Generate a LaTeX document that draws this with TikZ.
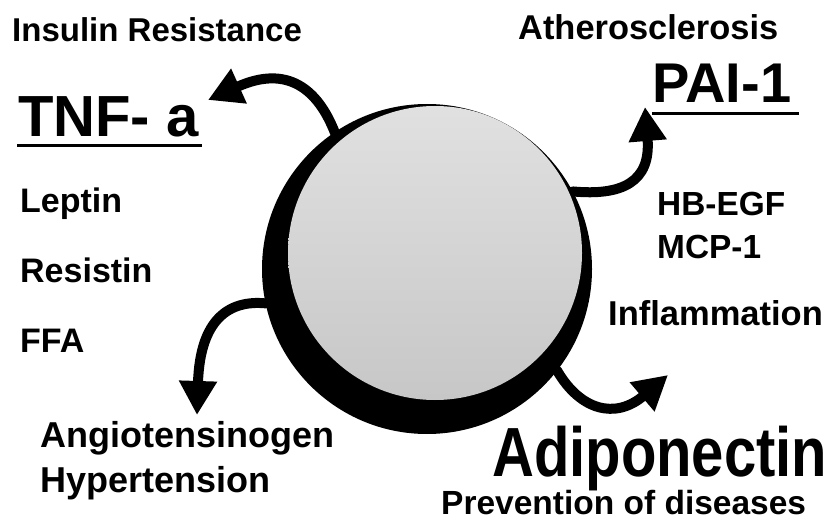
\documentclass[tikz,border=0pt]{standalone}
\usepackage{fontspec}
\setmainfont{Liberation Sans}
\usepackage{graphicx}
\usepackage{tikz}
\usetikzlibrary{arrows.meta,positioning}

\begin{document}
\begin{tikzpicture}[
  x=1pt, y=-1pt,
  lbl/.style={anchor=base west, inner sep=0pt, font=\fontsize{34}{40}\selectfont\bfseries},
  big/.style={anchor=base west, inner sep=0pt, font=\fontsize{58}{64}\selectfont\bfseries},
  secr/.style={line width=10pt, line join=round, -{Triangle[length=34pt,width=36pt]}},
  uline/.style={line width=3pt}
]
\useasboundingbox (0,0) rectangle (827,521);

\node[circle, fill=black, minimum size=330pt, inner sep=0pt] (cell) at (427,269) {};

\coordinate (tnfend) at (208,100);
\coordinate (paiend) at (645,107);
\coordinate (angend) at (197,415);
\coordinate (adipoend) at (668,375);

\draw[secr] (cell.center) -- (cell.124) .. controls (318,90) and (288,64) .. (tnfend);
\draw[secr] (cell.center) -- (cell.28) .. controls (622,196) and (651,182) .. (paiend);
\draw[secr] (cell.center) -- (cell.192) .. controls (230,300) and (200,318) .. (angend);
\draw[secr] (cell.center) -- (cell.322) .. controls (580,410) and (615,420) .. (adipoend);

\node[circle, top color=black!12, bottom color=black!22, minimum size=294pt, inner sep=0pt] (core) at (435,253) {};

\node[lbl, font=\fontsize{33}{40}\selectfont\bfseries] (insulin) at (12,42) {Insulin Resistance};
\node[big] (tnf) at (18,137) {TNF- a};
\draw[uline] ([xshift=-1pt,yshift=-8pt]tnf.south west) -- ([xshift=3pt,yshift=-8pt]tnf.south east);
\node[lbl] (leptin) at (20,213) {Leptin};
\node[lbl] (resistin) at (20,283) {Resistin};
\node[lbl] (ffa) at (20,352) {FFA};

\node[lbl, font=\fontsize{34.4}{40}\selectfont\bfseries] (athero) at (518,40) {Atherosclerosis};
\node[big, font=\fontsize{56}{64}\selectfont\bfseries] (pai) at (652,103) {PAI-1};
\draw[uline] ([yshift=-10pt]pai.south west) -- ([xshift=8pt,yshift=-10pt]pai.south east);
\node[lbl, font=\fontsize{33.4}{40}\selectfont\bfseries] (hbegf) at (657,216) {HB-EGF};
\node[lbl, font=\fontsize{33.4}{40}\selectfont\bfseries] (mcp) at (657,259) {MCP-1};
\node[lbl, font=\fontsize{34.5}{40}\selectfont\bfseries] (inflam) at (608,325) {Inflammation};

\node[lbl, font=\fontsize{36}{40}\selectfont\bfseries] (angio) at (40,447) {Angiotensinogen};
\node[lbl, font=\fontsize{36}{40}\selectfont\bfseries] (hyper) at (40,492) {Hypertension};

\node[big] (adipo) at (492,476) {\scalebox{1}[1.2]{Adiponectin}};
\node[lbl, font=\fontsize{33.5}{40}\selectfont\bfseries] (prevent) at (441,514) {Prevention of diseases};

\end{tikzpicture}
\end{document}
